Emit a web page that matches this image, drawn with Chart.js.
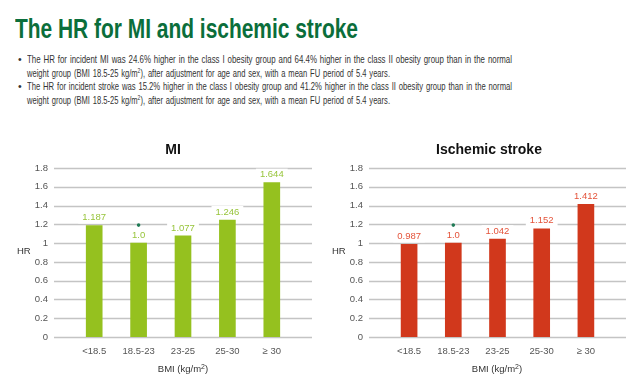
<!DOCTYPE html>
<html>
<head>
<meta charset="utf-8">
<script src="https://cdn.jsdelivr.net/npm/chart.js@4/dist/chart.umd.min.js"></script>
<style>
  body { margin: 0; width: 640px; height: 384px; background: #fff; position: relative; overflow: hidden;
         font-family: "Liberation Sans", Arial, sans-serif; }
  #headline { position: absolute; left: 15px; top: 14px; white-space: nowrap; transform-origin: 0 0;
              font: bold 27px "Liberation Sans Narrow", "Liberation Sans", sans-serif; color: #0b6e3b; line-height: 30px; }
  #notes { position: absolute; left: 27px; top: 53px; color: #333;
           font: 10.5px "Liberation Sans", Arial, sans-serif; word-spacing: 1px; }
  #notes div { position: relative; white-space: nowrap; line-height: 13.7px; }
  #notes span.t { display: inline-block; transform-origin: 0 0; }
  #notes .b { position: absolute; left: -9px; }
  sup { font-size: 7px; vertical-align: top; line-height: 8px; }
  .box { position: absolute; top: 130px; width: 320px; height: 254px; }
  .box canvas { position: absolute; left: 0; top: 0; }
  .ttl { position: absolute; top: 141px; font-weight: bold; font-size: 14px; color: #111; transform: translateX(-50%); white-space: nowrap; }
  .hr { position: absolute; top: 245px; font-size: 9.5px; color: #333; }
  .bmi { position: absolute; top: 363px; font-size: 9.5px; color: #333; transform: translateX(-50%); white-space: nowrap; }
</style>
</head>
<body>
<div id="headline">The HR for MI and ischemic stroke</div>
<div id="notes">
  <div><span class="b">•</span><span class="t" data-w="485">The HR for incident MI was 24.6% higher in the class I obesity group and 64.4% higher in the class II obesity group than in the normal</span></div>
  <div><span class="t" data-w="363">weight group (BMI 18.5-25 kg/m<sup>2</sup>), after adjustment for age and sex, with a mean FU period of 5.4 years.</span></div>
  <div><span class="b">•</span><span class="t" data-w="485">The HR for incident stroke was 15.2% higher in the class I obesity group and 41.2% higher in the class II obesity group than in the normal</span></div>
  <div><span class="t" data-w="363">weight group (BMI 18.5-25 kg/m<sup>2</sup>), after adjustment for age and sex, with a mean FU period of 5.4 years.</span></div>
</div>

<div class="box" style="left:0"><canvas id="mi" width="320" height="254"></canvas></div>
<div class="box" style="left:320px"><canvas id="stroke" width="320" height="254"></canvas></div>
<div class="ttl" style="left:173px">MI</div>
<div class="ttl" style="left:489px">Ischemic stroke</div>
<div class="hr" style="left:17px">HR</div>
<div class="hr" style="left:332px">HR</div>
<div class="bmi" style="left:183px">BMI (kg/m<sup>2</sup>)</div>
<div class="bmi" style="left:497px">BMI (kg/m<sup>2</sup>)</div>

<script>
const categories = ['<18.5', '18.5-23', '23-25', '25-30', '≥ 30'];
const miHR = [1.187, 1.0, 1.077, 1.246, 1.644];
const strokeHR = [0.987, 1.0, 1.042, 1.152, 1.412];
const referenceGroup = 1; // marked with a dot above its label
const yMax = 1.8;
const yStep = 0.2;

// squeeze the text to the width of the condensed (justified) original
const head = document.getElementById('headline');
head.style.transform = `scaleX(${343 / head.getBoundingClientRect().width})`;
document.querySelectorAll('#notes .t').forEach(el => {
  el.style.transform = `scaleX(${+el.dataset.w / el.getBoundingClientRect().width})`;
});

const wideGrid = {
  id: 'wideGrid',
  beforeDatasetsDraw(chart) {
    const { ctx, chartArea } = chart;
    const y = chart.scales.y;
    ctx.save();
    ctx.strokeStyle = '#c4c4c4';
    ctx.lineWidth = 1.5;
    y.ticks.forEach(t => {
      const py = Math.round(y.getPixelForValue(t.value)) + 0.5;
      ctx.beginPath();
      ctx.moveTo(chartArea.left - 18, py);
      ctx.lineTo(chartArea.right + 18, py);
      ctx.stroke();
    });
    ctx.restore();
  },
};

const valueLabels = {
  id: 'valueLabels',
  afterDatasetsDraw(chart, args, options) {
    const { ctx } = chart;
    const meta = chart.getDatasetMeta(0);
    const data = chart.data.datasets[0].data;
    ctx.save();
    ctx.font = '9.5px "Liberation Sans", Arial, sans-serif';
    ctx.textAlign = 'center';
    ctx.textBaseline = 'middle';
    meta.data.forEach((bar, i) => {
      const v = data[i];
      const txt = v === 1 ? '1.0' : v.toFixed(3);
      const cy = bar.y - 8;
      const w = ctx.measureText(txt).width + 8;
      ctx.fillStyle = '#fff';
      ctx.fillRect(bar.x - w / 2, cy - 6, w, 12);
      ctx.fillStyle = options.color;
      ctx.fillText(txt, bar.x, cy);
      if (i === referenceGroup) {
        ctx.fillStyle = '#1f7a55';
        ctx.beginPath();
        ctx.arc(bar.x, cy - 10, 1.8, 0, Math.PI * 2);
        ctx.fill();
      }
    });
    ctx.restore();
  },
};

const tickFont = { size: 9.5, family: '"Liberation Sans", Arial, sans-serif' };

const makeChart = (id, values, barColor, labelColor, leftWidth, padRight) => new Chart(document.getElementById(id), {
  type: 'bar',
  data: {
    labels: categories,
    datasets: [{ data: values, backgroundColor: barColor, barThickness: 16 }],
  },
  plugins: [wideGrid, valueLabels],
  options: {
    responsive: false,
    animation: false,
    layout: { padding: { left: 0, right: padRight, top: 38, bottom: 0 } },
    plugins: {
      legend: { display: false },
      tooltip: { enabled: false },
      valueLabels: { color: labelColor },
    },
    scales: {
      x: {
        grid: { display: false, drawTicks: false },
        border: { display: false },
        ticks: { padding: 9, color: '#555', font: tickFont },
        afterFit: s => { s.height = 47; },
      },
      y: {
        min: 0,
        max: yMax,
        grid: { display: false, drawTicks: false },
        border: { display: false },
        ticks: {
          stepSize: yStep,
          padding: 24,
          color: '#555',
          font: tickFont,
          callback: v => String(+v.toFixed(1)),
        },
        afterFit: s => { s.width = leftWidth; },
      },
    },
  },
});

makeChart('mi', miHR, '#95c11f', '#97c43a', 72, 26);
makeChart('stroke', strokeHR, '#d1381c', '#e4533a', 67, 32);
</script>
</body>
</html>
